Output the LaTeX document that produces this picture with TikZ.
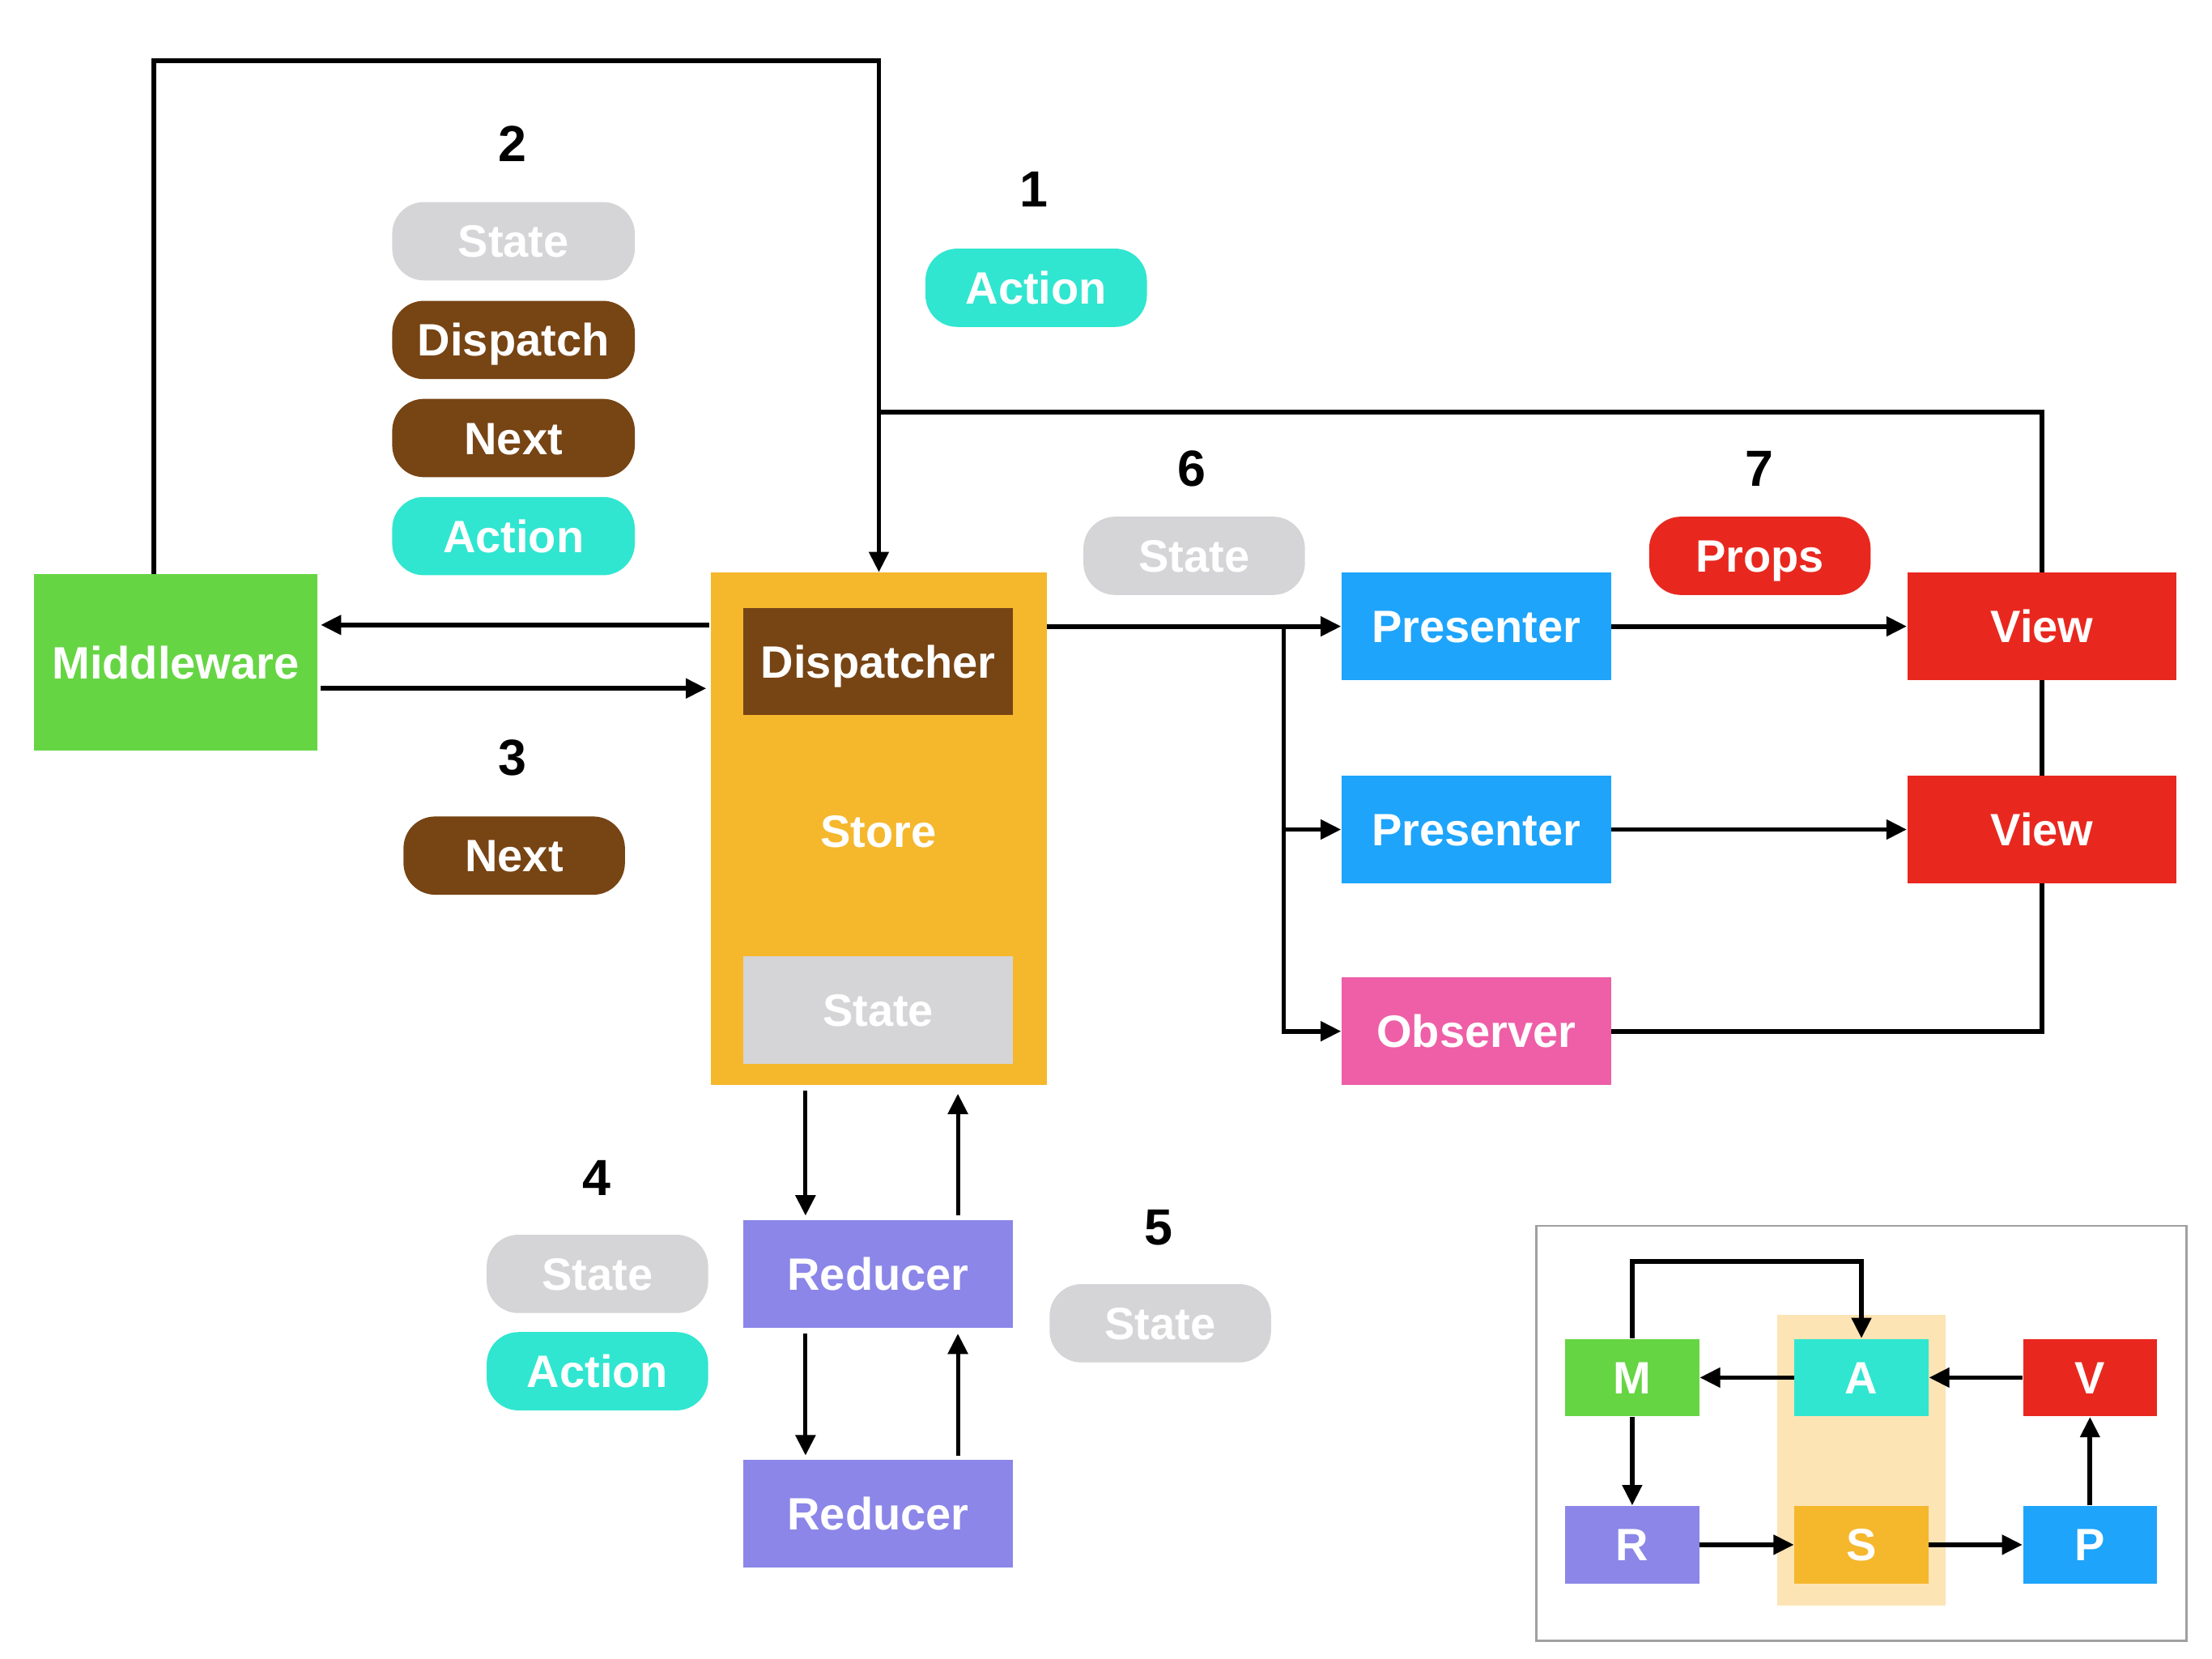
\documentclass[tikz,border=0pt]{standalone}
\usepackage{fontspec}
\setmainfont{Liberation Sans}
\usetikzlibrary{arrows.meta}
\definecolor{cgreen}{RGB}{102,213,68}
\definecolor{corange}{RGB}{245,183,44}
\definecolor{cbrown}{RGB}{119,68,20}
\definecolor{cgray}{RGB}{213,212,214}
\definecolor{ccyan}{RGB}{48,230,208}
\definecolor{cpurple}{RGB}{139,134,232}
\definecolor{cblue}{RGB}{30,164,251}
\definecolor{cpink}{RGB}{238,95,167}
\definecolor{cred}{RGB}{232,40,31}
\definecolor{clight}{RGB}{252,228,180}
\definecolor{cframe}{RGB}{160,160,160}
\begin{document}
\begin{tikzpicture}[x=0.02cm,y=-0.02cm,
  lbl/.style={font=\bfseries\fontsize{18.3}{22}\selectfont, text=white, text height=13.1pt, text depth=0pt, inner sep=0pt},
  box/.style={lbl, rectangle, minimum width=3.82cm, minimum height=1.52cm},
  pill/.style={lbl, rectangle, rounded corners=0.45cm, minimum width=3.14cm, minimum height=1.11cm},
  wpill/.style={pill, minimum width=3.44cm},
  sbox/.style={lbl, rectangle, minimum width=1.9cm, minimum height=1.1cm},
  num/.style={font=\bfseries\fontsize{20.5}{24}\selectfont, inner sep=0pt},
  ln/.style={line width=1.9pt},
  arr/.style={ln, -{Triangle[length=0.29cm,width=0.27cm]}},
  arrt/.style={line width=1.6pt, -{Triangle[length=0.29cm,width=0.28cm]}}]
\useasboundingbox (0,0) rectangle (1568,1176);
\fill[white] (0,0) rectangle (1568,1176);

% ---------- main nodes ----------
\node[box, fill=cgreen, minimum width=4.02cm, minimum height=2.5cm] (mw) at (124.5,469.5) {Middleware};
\node[rectangle, fill=corange, minimum width=4.76cm, minimum height=7.26cm, inner sep=0pt] (store) at (623,587.5) {};
\node[box, fill=cbrown] (disp) at (622.5,469) {Dispatcher};
\node[lbl] (storelab) at (622.5,589) {Store};
\node[box, fill=cgray] (sstate) at (622.5,716) {State};
\node[box, fill=cpurple] (red1) at (622.5,903) {Reducer};
\node[box, fill=cpurple] (red2) at (622.5,1073) {Reducer};
\node[box, fill=cblue] (pres1) at (1046.5,444) {Presenter};
\node[box, fill=cblue] (pres2) at (1046.5,588) {Presenter};
\node[box, fill=cpink] (obs) at (1046.5,731) {Observer};
\node[box, fill=cred] (view1) at (1447.5,444) {View};
\node[box, fill=cred] (view2) at (1447.5,588) {View};

% ---------- labels ----------
\node[num] (n1) at (733,134) {1};
\node[pill, fill=ccyan] (p1a) at (734.5,204) {Action};
\node[num] (n2) at (363,102) {2};
\node[wpill, fill=cgray] (p2s) at (364,171) {State};
\node[wpill, fill=cbrown] (p2d) at (364,241) {Dispatch};
\node[wpill, fill=cbrown] (p2n) at (364,310.5) {Next};
\node[wpill, fill=ccyan] (p2a) at (364,380) {Action};
\node[num] (n3) at (363,537) {3};
\node[pill, fill=cbrown] (p3n) at (364.5,606.5) {Next};
\node[num] (n4) at (423,835) {4};
\node[pill, fill=cgray] (p4s) at (423.5,903) {State};
\node[pill, fill=ccyan] (p4a) at (423.5,972) {Action};
\node[num] (n5) at (821,870) {5};
\node[pill, fill=cgray] (p5s) at (822.5,938) {State};
\node[num] (n6) at (845,332) {6};
\node[pill, fill=cgray] (p6s) at (846.5,394) {State};
\node[num] (n7) at (1247,332) {7};
\node[pill, fill=cred] (p7p) at (1247.5,394) {Props};

% ---------- coordinates ----------
\coordinate (lx) at (109,0);
\coordinate (top) at (0,43);
\coordinate (jy) at (0,292);
\coordinate (ya) at (0,443);
\coordinate (yb) at (0,488);
\coordinate (br) at (910,444);
\coordinate (ra) at (571,0);
\coordinate (rb) at (679,0);

% ---------- connectors ----------
\draw[arr] (mw.north -| lx) -- (lx |- top) -| (store.north);
\draw[ln] (view1.north) |- (store.north |- jy);
\draw[arr, shorten <=0.02cm, shorten >=0.04cm] (store.west |- ya) -- (mw.east |- ya);
\draw[arr, shorten <=0.04cm, shorten >=0.06cm] (mw.east |- yb) -- (store.west |- yb);
\draw[arr] (store.east |- pres1) -- (pres1.west);
\draw[arr] (br) |- (pres2.west);
\draw[arr] (br) |- (obs.west);
\draw[arr] (pres1.east) -- (view1.west);
\draw[arr] (pres2.east) -- (view2.west);
\draw[ln] (view1.south) -- (view2.north);
\draw[ln] (view2.south) |- (obs.east);
\draw[arrt, shorten <=0.08cm, shorten >=0.06cm] (store.south -| ra) -- (red1.north -| ra);
\draw[arrt, shorten <=0.06cm, shorten >=0.12cm] (red1.north -| rb) -- (store.south -| rb);
\draw[arrt, shorten <=0.08cm, shorten >=0.06cm] (red1.south -| ra) -- (red2.north -| ra);
\draw[arrt, shorten <=0.06cm, shorten >=0.08cm] (red2.north -| rb) -- (red1.south -| rb);

% ---------- inset ----------
\node[draw=cframe, line width=0.8pt, rectangle, minimum width=9.22cm, minimum height=5.88cm, inner sep=0pt] (frame) at (1319.5,1016) {};
\node[fill=clight, rectangle, minimum width=2.38cm, minimum height=4.12cm, inner sep=0pt] (sbg) at (1319.5,1035) {};
\node[sbox, fill=cgreen] (M) at (1157,976.5) {M};
\node[sbox, fill=ccyan] (A) at (1319.5,976.5) {A};
\node[sbox, fill=cred] (V) at (1481.5,976.5) {V};
\node[sbox, fill=cpurple] (R) at (1157,1095) {R};
\node[sbox, fill=corange] (S) at (1319.5,1095) {S};
\node[sbox, fill=cblue] (P) at (1481.5,1095) {P};
\coordinate (itop) at (0,894);
\draw[arr] (M.north) -- (M.north |- itop) -| (A.north);
\draw[arr] (A.west) -- (M.east);
\draw[arr] (V.west) -- (A.east);
\draw[arr] (M.south) -- (R.north);
\draw[arr] (R.east) -- (S.west);
\draw[arr] (S.east) -- (P.west);
\draw[arr] (P.north) -- (V.south);
\end{tikzpicture}
\end{document}
